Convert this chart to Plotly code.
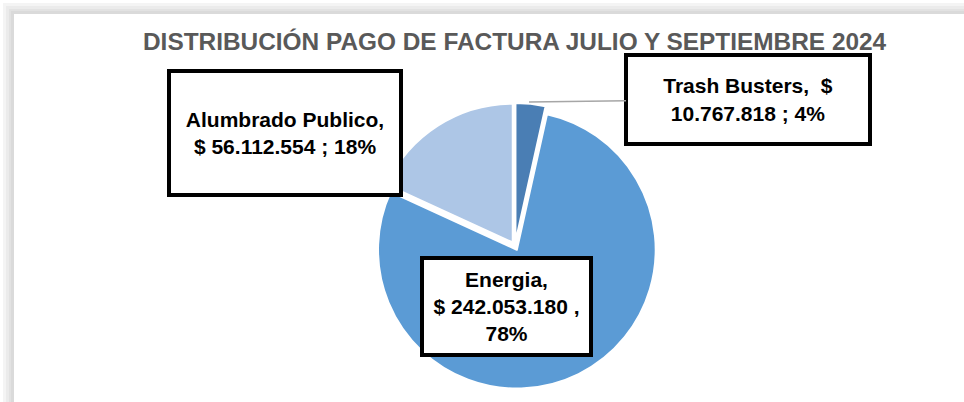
import plotly.graph_objects as go

W, H = 964, 402

categories = ["Trash Busters", "Energia", "Alumbrado Publico"]
values = [10767818, 242053180, 56112554]
percent_labels = ["4%", "78%", "18%"]
colors = ["#4A7EB4", "#5B9BD5", "#ADC6E6"]

title_text = "DISTRIBUCIÓN PAGO DE FACTURA JULIO Y SEPTIEMBRE 2024"


def money(v):
    return "{:,}".format(v).replace(",", ".")


label_texts = [
    f"{categories[0]},  $<br>{money(values[0])} ; {percent_labels[0]}",
    f"{categories[1]},<br>$ {money(values[1])} ,<br>{percent_labels[1]}",
    f"{categories[2]},<br>$ {money(values[2])} ; {percent_labels[2]}",
]

# label box centres / sizes in pixels (layout only)
box_pos = [(748, 99, 240, 85), (506, 306, 165, 93), (285, 133, 228, 120)]


def px(x):
    return x / W


def py(y):
    return 1 - y / H


fig = go.Figure()
fig.add_trace(go.Pie(
    labels=categories,
    values=values,
    sort=False,
    direction="clockwise",
    rotation=0,
    marker=dict(colors=colors, line=dict(color="white", width=2)),
    pull=[0.03, 0.03, 0.03],
    textinfo="none",
    hoverinfo="label+value+percent",
    showlegend=False,
    domain=dict(x=[px(372), px(658)], y=[py(391), py(101)]),
))

shapes = []
# soft shadow frame
for off, col in [(3, "#f4f4f4"), (6, "#ebebeb"), (9, "#e2e2e2"), (11, "#dadada")]:
    shapes.append(dict(type="rect", xref="paper", yref="paper",
                       x0=px(off), x1=1.2, y0=-0.2, y1=py(off),
                       fillcolor=col, line=dict(width=0), layer="below"))
shapes.append(dict(type="rect", xref="paper", yref="paper",
                   x0=px(14), x1=1.2, y0=-0.2, y1=py(14),
                   fillcolor="white", line=dict(width=0), layer="below"))

annotations = [dict(
    text=f"<b>{title_text}</b>", x=px(515), y=py(42), xref="paper", yref="paper",
    showarrow=False, xanchor="center", yanchor="middle",
    font=dict(family="Liberation Sans, Arial", size=24.4, color="#595959"),
)]

for i, txt in enumerate(label_texts):
    cx, cy, bw, bh = box_pos[i]
    ann = dict(
        text=f"<b>{txt}</b>", xref="paper", yref="paper",
        xanchor="center", yanchor="middle", align="center",
        width=bw, height=bh,
        bgcolor="white", bordercolor="black", borderwidth=4, borderpad=0,
        font=dict(family="Liberation Sans, Arial", size=21, color="black"),
    )
    if i == 0:
        ann.update(x=px(529), y=py(102), showarrow=True, arrowhead=0,
                   arrowcolor="#A6A6A6", arrowwidth=1.5,
                   axref="pixel", ayref="pixel", ax=cx - 529, ay=cy - 102)
    else:
        ann.update(x=px(cx), y=py(cy), showarrow=False)
    annotations.append(ann)

fig.update_layout(
    width=W, height=H,
    margin=dict(l=0, r=0, t=0, b=0),
    paper_bgcolor="white", plot_bgcolor="white",
    shapes=shapes, annotations=annotations,
)

fig.write_html("out.html", config={"displayModeBar": False},
               post_script="document.body.style.margin='0';")
